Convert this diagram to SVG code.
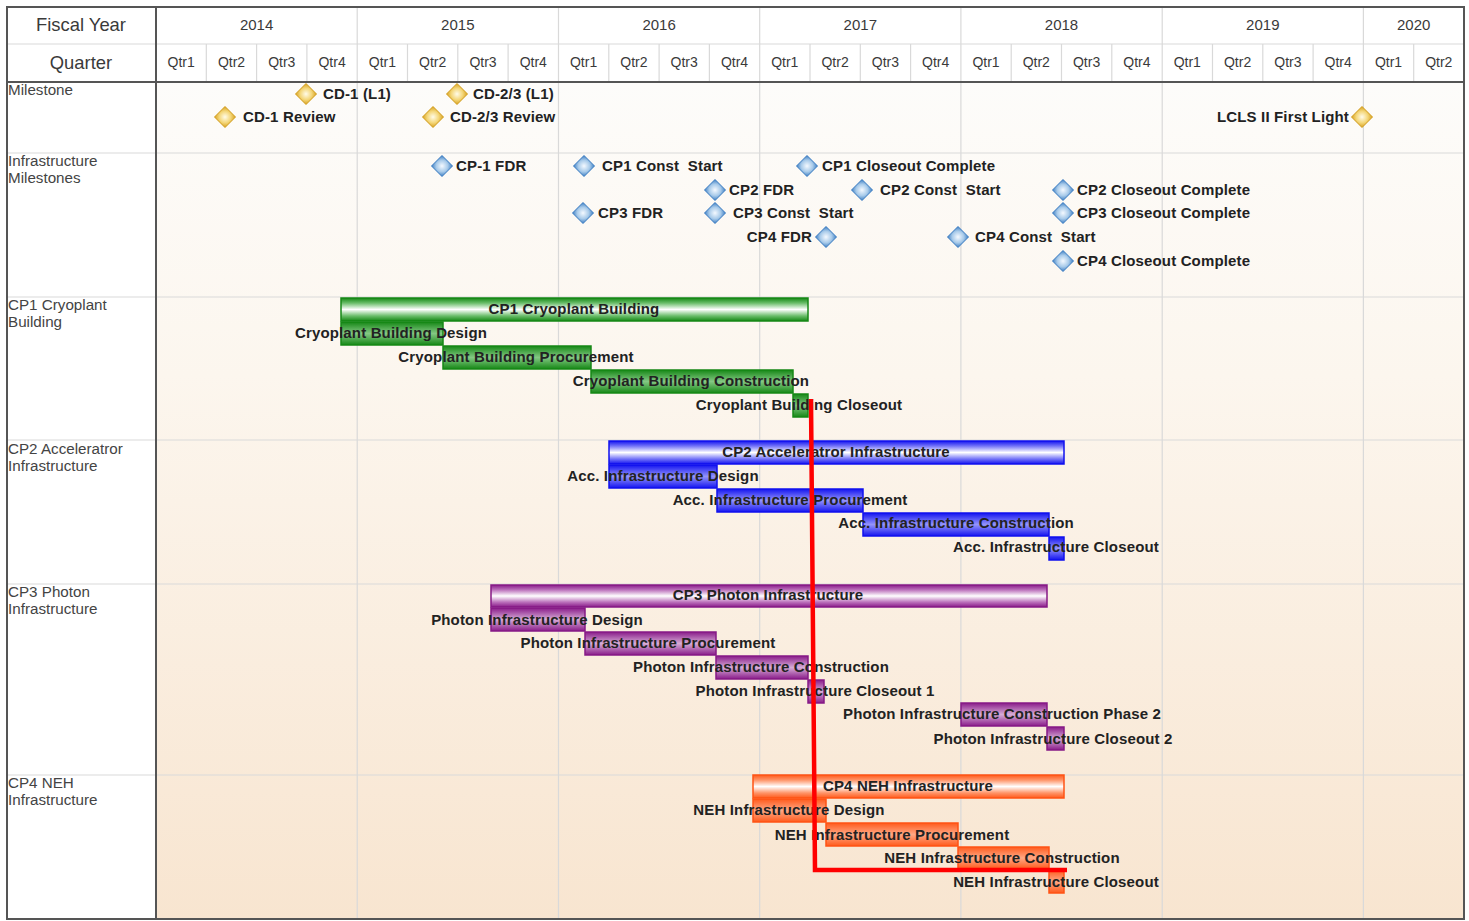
<svg xmlns="http://www.w3.org/2000/svg" width="1469" height="921" viewBox="0 0 1469 921">
  <style>
    .hdr { font-family: "Liberation Sans", Arial, sans-serif; fill: #3a3a3a; text-anchor: middle; }
    .fy { font-size: 18.4px; }
    .yr { font-size: 15px; }
    .qt { font-size: 14px; }
    .side { font-family: "Liberation Sans", Arial, sans-serif; font-size: 15.2px; fill: #444; }
    .lbl { font-family: "Liberation Sans", Arial, sans-serif; font-size: 15px; font-weight: bold; letter-spacing: 0.15px; fill: #222; white-space: pre; }
    .mid { text-anchor: middle; }
    .end { text-anchor: end; }
    .grid { stroke: #d9d9d9; stroke-width: 1.2; fill: none; }
    .frame { stroke: #555; stroke-width: 2; fill: none; }
    .g-sum { fill: url(#gSum); stroke: #168816; stroke-width: 1.5; }
    .g-task { fill: url(#gTask); stroke: #168816; stroke-width: 1.5; }
    .b-sum { fill: url(#bSum); stroke: #1010ee; stroke-width: 1.5; }
    .b-task { fill: url(#bTask); stroke: #1010ee; stroke-width: 1.5; }
    .p-sum { fill: url(#pSum); stroke: #861a86; stroke-width: 1.5; }
    .p-task { fill: url(#pTask); stroke: #861a86; stroke-width: 1.5; }
    .o-sum { fill: url(#oSum); stroke: #ff5314; stroke-width: 1.5; }
    .o-task { fill: url(#oTask); stroke: #ff5314; stroke-width: 1.5; }
    .crit { stroke: #ff0000; stroke-width: 4.5; fill: none; stroke-linejoin: miter; }
  </style>
  <defs>
    <linearGradient id="bg" x1="0" y1="0" x2="0" y2="1">
      <stop offset="0" stop-color="#fdfcfa"/>
      <stop offset="0.35" stop-color="#fcf6ee"/>
      <stop offset="1" stop-color="#f8e5d0"/>
    </linearGradient>
    <!-- glossy summary bars -->
    <linearGradient id="gSum" x1="0" y1="0" x2="0" y2="1">
      <stop offset="0" stop-color="#168816"/><stop offset="0.22" stop-color="#6abd6a"/>
      <stop offset="0.5" stop-color="#ffffff"/><stop offset="0.78" stop-color="#6abd6a"/>
      <stop offset="1" stop-color="#168816"/>
    </linearGradient>
    <linearGradient id="gTask" x1="0" y1="0" x2="0" y2="1">
      <stop offset="0" stop-color="#168816"/><stop offset="0.5" stop-color="#84c884"/>
      <stop offset="1" stop-color="#168816"/>
    </linearGradient>
    <linearGradient id="bSum" x1="0" y1="0" x2="0" y2="1">
      <stop offset="0" stop-color="#1414f0"/><stop offset="0.22" stop-color="#7474f8"/>
      <stop offset="0.5" stop-color="#ffffff"/><stop offset="0.78" stop-color="#7474f8"/>
      <stop offset="1" stop-color="#1414f0"/>
    </linearGradient>
    <linearGradient id="bTask" x1="0" y1="0" x2="0" y2="1">
      <stop offset="0" stop-color="#1414f0"/><stop offset="0.5" stop-color="#9494fa"/>
      <stop offset="1" stop-color="#1414f0"/>
    </linearGradient>
    <linearGradient id="pSum" x1="0" y1="0" x2="0" y2="1">
      <stop offset="0" stop-color="#8a1c8a"/><stop offset="0.22" stop-color="#bb70bb"/>
      <stop offset="0.5" stop-color="#ffffff"/><stop offset="0.78" stop-color="#bb70bb"/>
      <stop offset="1" stop-color="#8a1c8a"/>
    </linearGradient>
    <linearGradient id="pTask" x1="0" y1="0" x2="0" y2="1">
      <stop offset="0" stop-color="#8a1c8a"/><stop offset="0.5" stop-color="#d6acd6"/>
      <stop offset="1" stop-color="#8a1c8a"/>
    </linearGradient>
    <linearGradient id="oSum" x1="0" y1="0" x2="0" y2="1">
      <stop offset="0" stop-color="#ff5a1c"/><stop offset="0.22" stop-color="#ff9468"/>
      <stop offset="0.5" stop-color="#ffffff"/><stop offset="0.78" stop-color="#ff9468"/>
      <stop offset="1" stop-color="#ff5a1c"/>
    </linearGradient>
    <linearGradient id="oTask" x1="0" y1="0" x2="0" y2="1">
      <stop offset="0" stop-color="#ff5a1c"/><stop offset="0.5" stop-color="#ffa885"/>
      <stop offset="1" stop-color="#ff5a1c"/>
    </linearGradient>
    <radialGradient id="goldFill" cx="0.5" cy="0.5" r="0.5">
      <stop offset="0" stop-color="#fffbe8"/><stop offset="0.55" stop-color="#f4d77a"/>
      <stop offset="1" stop-color="#d7a01e"/>
    </radialGradient>
    <radialGradient id="blueFill" cx="0.5" cy="0.5" r="0.5">
      <stop offset="0" stop-color="#f4f9ff"/><stop offset="0.55" stop-color="#a9cbea"/>
      <stop offset="1" stop-color="#3a7cc2"/>
    </radialGradient>
    <polygon id="dGold" points="0,-10.5 10.5,0 0,10.5 -10.5,0" fill="url(#goldFill)" stroke="#d29c1a" stroke-width="1"/>
    <polygon id="dBlue" points="0,-10.5 10.5,0 0,10.5 -10.5,0" fill="url(#blueFill)" stroke="#3a7cc2" stroke-width="1"/>
  </defs>

  <!-- page and chart background -->
  <rect x="0" y="0" width="1469" height="921" fill="#ffffff"/>
  <rect x="156" y="82" width="1308" height="837" fill="url(#bg)"/>

  <!-- grid -->
  <g id="grid">
    <!-- header inner lines -->
    <line class="grid" x1="7" y1="44" x2="1464" y2="44"/>
    <path class="grid" d="M206.3 44V82M256.6 44V82M306.9 44V82M407.5 44V82M457.8 44V82M508.1 44V82M608.8 44V82M659.1 44V82M709.4 44V82M810 44V82M860.3 44V82M910.6 44V82M1011.2 44V82M1061.5 44V82M1111.8 44V82M1212.5 44V82M1262.8 44V82M1313.1 44V82M1413.7 44V82"/>
    <!-- year boundaries -->
    <path class="grid" d="M357.2 7V919M558.5 7V919M759.7 7V919M960.9 7V919M1162.2 7V919M1363.4 7V919"/>
    <!-- row separators -->
    <path class="grid" d="M7 153H1464M7 297H1464M7 440H1464M7 584H1464M7 775H1464"/>
    <!-- frame -->
    <rect class="frame" x="7" y="7" width="1457" height="912"/>
    <line class="frame" x1="156" y1="7" x2="156" y2="919"/>
    <line class="frame" x1="7" y1="82" x2="1464" y2="82" stroke-width="2.5"/>
  </g>

  <!-- header -->
  <g id="header">
    <text class="hdr fy" x="81" y="31">Fiscal Year</text>
    <text class="hdr fy" x="81" y="69">Quarter</text>
    <text class="hdr yr" x="256.6" y="30">2014</text>
    <text class="hdr yr" x="457.8" y="30">2015</text>
    <text class="hdr yr" x="659.1" y="30">2016</text>
    <text class="hdr yr" x="860.3" y="30">2017</text>
    <text class="hdr yr" x="1061.5" y="30">2018</text>
    <text class="hdr yr" x="1262.8" y="30">2019</text>
    <text class="hdr yr" x="1413.7" y="30">2020</text>
    <g class="hdr qt">
      <text x="181.2" y="67">Qtr1</text><text x="231.5" y="67">Qtr2</text><text x="281.8" y="67">Qtr3</text><text x="332.1" y="67">Qtr4</text>
      <text x="382.4" y="67">Qtr1</text><text x="432.7" y="67">Qtr2</text><text x="483" y="67">Qtr3</text><text x="533.3" y="67">Qtr4</text>
      <text x="583.6" y="67">Qtr1</text><text x="633.9" y="67">Qtr2</text><text x="684.2" y="67">Qtr3</text><text x="734.5" y="67">Qtr4</text>
      <text x="784.8" y="67">Qtr1</text><text x="835.1" y="67">Qtr2</text><text x="885.4" y="67">Qtr3</text><text x="935.7" y="67">Qtr4</text>
      <text x="986" y="67">Qtr1</text><text x="1036.3" y="67">Qtr2</text><text x="1086.6" y="67">Qtr3</text><text x="1136.9" y="67">Qtr4</text>
      <text x="1187.3" y="67">Qtr1</text><text x="1237.6" y="67">Qtr2</text><text x="1287.9" y="67">Qtr3</text><text x="1338.2" y="67">Qtr4</text>
      <text x="1388.5" y="67">Qtr1</text><text x="1438.8" y="67">Qtr2</text>
    </g>
  </g>

  <!-- row titles -->
  <g id="row-titles" class="side">
    <text x="8" y="95">Milestone</text>
    <text x="8" y="166">Infrastructure</text><text x="8" y="183">Milestones</text>
    <text x="8" y="310">CP1 Cryoplant</text><text x="8" y="327">Building</text>
    <text x="8" y="454">CP2 Acceleratror</text><text x="8" y="471">Infrastructure</text>
    <text x="8" y="597">CP3 Photon</text><text x="8" y="614">Infrastructure</text>
    <text x="8" y="788">CP4 NEH</text><text x="8" y="805">Infrastructure</text>
  </g>

  <!-- project milestones -->
  <g id="ms-cd1-l1"><use href="#dGold" x="306" y="94"/><text class="lbl" x="323" y="99">CD-1 (L1)</text></g>
  <g id="ms-cd1-review"><use href="#dGold" x="225" y="117"/><text class="lbl" x="243" y="122">CD-1 Review</text></g>
  <g id="ms-cd23-l1"><use href="#dGold" x="457" y="94"/><text class="lbl" x="473" y="99">CD-2/3 (L1)</text></g>
  <g id="ms-cd23-review"><use href="#dGold" x="433" y="117"/><text class="lbl" x="450" y="122">CD-2/3 Review</text></g>
  <g id="ms-first-light"><use href="#dGold" x="1362" y="117"/><text class="lbl end" x="1349" y="122">LCLS II First Light</text></g>

  <!-- infrastructure milestones -->
  <g id="im-cp1-fdr"><use href="#dBlue" x="442" y="166"/><text class="lbl" x="456" y="171">CP-1 FDR</text></g>
  <g id="im-cp1-start"><use href="#dBlue" x="584" y="166"/><text class="lbl" x="602" y="171">CP1 Const  Start</text></g>
  <g id="im-cp1-close"><use href="#dBlue" x="807" y="166"/><text class="lbl" x="822" y="171">CP1 Closeout Complete</text></g>
  <g id="im-cp2-fdr"><use href="#dBlue" x="715" y="190"/><text class="lbl" x="729" y="195">CP2 FDR</text></g>
  <g id="im-cp2-start"><use href="#dBlue" x="862" y="190"/><text class="lbl" x="880" y="195">CP2 Const  Start</text></g>
  <g id="im-cp2-close"><use href="#dBlue" x="1063" y="190"/><text class="lbl" x="1077" y="195">CP2 Closeout Complete</text></g>
  <g id="im-cp3-fdr"><use href="#dBlue" x="583" y="213"/><text class="lbl" x="598" y="218">CP3 FDR</text></g>
  <g id="im-cp3-start"><use href="#dBlue" x="715" y="213"/><text class="lbl" x="733" y="218">CP3 Const  Start</text></g>
  <g id="im-cp3-close"><use href="#dBlue" x="1063" y="213"/><text class="lbl" x="1077" y="218">CP3 Closeout Complete</text></g>
  <g id="im-cp4-fdr"><use href="#dBlue" x="826" y="237"/><text class="lbl end" x="812" y="242">CP4 FDR</text></g>
  <g id="im-cp4-start"><use href="#dBlue" x="958" y="237"/><text class="lbl" x="975" y="242">CP4 Const  Start</text></g>
  <g id="im-cp4-close"><use href="#dBlue" x="1063" y="261"/><text class="lbl" x="1077" y="266">CP4 Closeout Complete</text></g>

  <!-- CP1 cryoplant building -->
  <g id="cp1-summary"><rect class="g-sum" x="341" y="298" width="467" height="23"/><text class="lbl mid" x="574" y="314">CP1 Cryoplant Building</text></g>
  <g id="cp1-design"><rect class="g-task" x="341" y="322" width="102" height="23"/><text class="lbl mid" x="391" y="338">Cryoplant Building Design</text></g>
  <g id="cp1-procurement"><rect class="g-task" x="443" y="346" width="148" height="23"/><text class="lbl mid" x="516" y="362">Cryoplant Building Procurement</text></g>
  <g id="cp1-construction"><rect class="g-task" x="591" y="370" width="202" height="23"/><text class="lbl mid" x="691" y="386">Cryoplant Building Construction</text></g>
  <g id="cp1-closeout"><rect class="g-task" x="793" y="394" width="15" height="23"/><text class="lbl mid" x="799" y="410">Cryoplant Building Closeout</text></g>

  <!-- CP2 accelerator infrastructure -->
  <g id="cp2-summary"><rect class="b-sum" x="609" y="441" width="455" height="23"/><text class="lbl mid" x="836" y="457">CP2 Acceleratror Infrastructure</text></g>
  <g id="cp2-design"><rect class="b-task" x="609" y="465" width="108" height="23"/><text class="lbl mid" x="663" y="481">Acc. Infrastructure Design</text></g>
  <g id="cp2-procurement"><rect class="b-task" x="717" y="489" width="146" height="23"/><text class="lbl mid" x="790" y="505">Acc. Infrastructure Procurement</text></g>
  <g id="cp2-construction"><rect class="b-task" x="863" y="513" width="186" height="23"/><text class="lbl mid" x="956" y="528">Acc. Infrastructure Construction</text></g>
  <g id="cp2-closeout"><rect class="b-task" x="1049" y="537" width="15" height="23"/><text class="lbl mid" x="1056" y="552">Acc. Infrastructure Closeout</text></g>

  <!-- CP3 photon infrastructure -->
  <g id="cp3-summary"><rect class="p-sum" x="491" y="585" width="556" height="22"/><text class="lbl mid" x="768" y="600">CP3 Photon Infrastructure</text></g>
  <g id="cp3-design"><rect class="p-task" x="491" y="608" width="94" height="23"/><text class="lbl mid" x="537" y="625">Photon Infrastructure Design</text></g>
  <g id="cp3-procurement"><rect class="p-task" x="585" y="632" width="131" height="23"/><text class="lbl mid" x="648" y="648">Photon Infrastructure Procurement</text></g>
  <g id="cp3-construction"><rect class="p-task" x="716" y="656" width="92" height="23"/><text class="lbl mid" x="761" y="672">Photon Infrastructure Construction</text></g>
  <g id="cp3-closeout1"><rect class="p-task" x="808" y="680" width="16" height="23"/><text class="lbl mid" x="815" y="696">Photon Infrastructure Closeout 1</text></g>
  <g id="cp3-phase2"><rect class="p-task" x="961" y="703" width="86" height="23"/><text class="lbl mid" x="1002" y="719">Photon Infrastructure Construction Phase 2</text></g>
  <g id="cp3-closeout2"><rect class="p-task" x="1047" y="727" width="17" height="23"/><text class="lbl mid" x="1053" y="744">Photon Infrastructure Closeout 2</text></g>

  <!-- CP4 NEH infrastructure -->
  <g id="cp4-summary"><rect class="o-sum" x="753" y="775" width="311" height="23"/><text class="lbl mid" x="908" y="791">CP4 NEH Infrastructure</text></g>
  <g id="cp4-design"><rect class="o-task" x="753" y="799" width="73" height="23"/><text class="lbl mid" x="789" y="815">NEH Infrastructure Design</text></g>
  <g id="cp4-procurement"><rect class="o-task" x="826" y="823" width="132" height="23"/><text class="lbl mid" x="892" y="840">NEH Infrastructure Procurement</text></g>
  <g id="cp4-construction"><rect class="o-task" x="958" y="847" width="91" height="22"/><text class="lbl mid" x="1002" y="863">NEH Infrastructure Construction</text></g>
  <g id="cp4-closeout"><rect class="o-task" x="1049" y="870" width="15" height="23"/><text class="lbl mid" x="1056" y="887">NEH Infrastructure Closeout</text></g>

  <!-- critical path -->
  <g id="connectors">
    <polyline class="crit" points="811,399 815,870 1067,870"/>
  </g>
</svg>
